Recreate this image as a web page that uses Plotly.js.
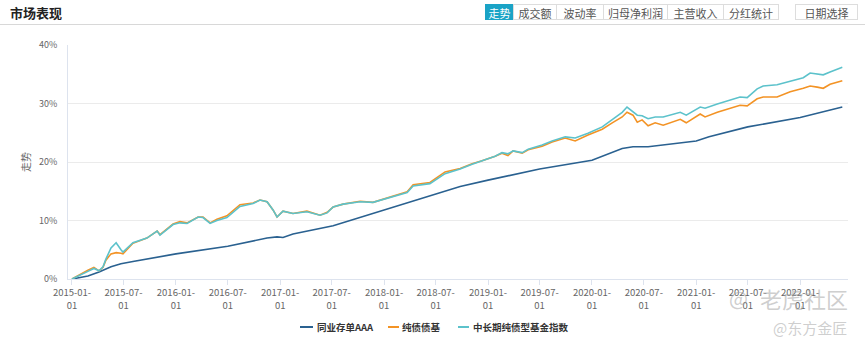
<!DOCTYPE html>
<html><head><meta charset="utf-8">
<script src="https://cdn.plot.ly/plotly-3.0.1.min.js"></script>
<style>
html,body{margin:0;padding:0;background:#fff;}
#wrap{position:relative;width:865px;height:346px;overflow:hidden;font-family:"Noto Sans CJK SC","Noto Sans",sans-serif;}
#chart{position:absolute;left:0;top:0;width:865px;height:346px;}
#hdr{position:absolute;left:10px;top:3px;font-size:13px;font-weight:bold;color:#222;}
#hline{position:absolute;left:0;top:24px;width:865px;height:1px;background:#d8d8d8;}
.btn{position:absolute;top:4px;height:16px;line-height:16px;font-size:11px;color:#555;border:1px solid #ddd;text-align:center;box-sizing:border-box;background:#fff;}
.btn.on{background:#1aa3c6;color:#fff;border-color:#1aa3c6;}
.wm{position:absolute;color:rgba(165,165,165,0.55);white-space:nowrap;}
.lgl{position:absolute;top:326px;height:2px;}
.lgt{position:absolute;top:320px;height:14px;line-height:14px;font-size:9.5px;font-weight:bold;color:#333;white-space:nowrap;}
</style></head>
<body><div id="wrap">
<div id="chart"></div>
<div id="hdr">市场表现</div>
<div id="hline"></div>
<div class="btn on" style="left:485px;width:29px;">走势</div>
<div class="btn" style="left:513px;width:44px;">成交额</div>
<div class="btn" style="left:556px;width:48px;">波动率</div>
<div class="btn" style="left:603px;width:65px;">归母净利润</div>
<div class="btn" style="left:667px;width:57px;">主营收入</div>
<div class="btn" style="left:723px;width:56px;">分红统计</div>
<div class="btn" style="left:795px;width:63px;">日期选择</div>
<div id="legend"></div>
<div class="wm" style="left:729px;top:287px;font-size:20px;line-height:22px;">@</div>
<div class="wm" style="left:760px;top:287px;font-size:22px;line-height:22px;">老虎社区</div>
<div class="wm" style="left:773px;top:320px;font-size:15px;line-height:15px;">@东方金匠</div>
</div>
<script>
// ---- data ----
var seriesNames = ["同业存单AAA", "纯债债基", "中长期纯债型基金指数"];

var cdDates = ["2015-01-01","2015-02-26","2015-04-06","2015-05-18","2015-06-22","2015-08-03","2016-01-01","2016-07-01","2016-11-16","2016-12-21","2017-01-11","2017-02-15","2017-07-06","2018-01-11","2018-07-01","2018-09-25","2019-01-01","2019-07-01","2020-01-01","2020-04-16","2020-05-24","2020-07-16","2021-01-01","2021-02-15","2021-07-01","2022-01-01","2022-05-29"];
var cdValues = [0,0.5,1.2,2.1,2.6,3.0,4.3,5.6,7.0,7.2,7.1,7.7,9.1,11.9,14.4,15.8,16.9,18.8,20.3,22.3,22.6,22.6,23.6,24.3,26.0,27.6,29.4];

var fundDates = ["2015-01-01","2015-01-25","2015-02-26","2015-03-19","2015-04-06","2015-04-20","2015-04-30","2015-05-18","2015-06-05","2015-06-22","2015-06-29","2015-08-03","2015-09-21","2015-10-27","2015-11-06","2015-12-22","2016-01-15","2016-02-09","2016-03-19","2016-04-05","2016-04-30","2016-05-24","2016-06-28","2016-08-13","2016-09-28","2016-10-22","2016-11-16","2016-12-07","2016-12-21","2017-01-11","2017-02-15","2017-04-05","2017-05-21","2017-06-15","2017-07-06","2017-08-10","2017-10-09","2017-11-23","2018-01-11","2018-03-23","2018-04-13","2018-06-11","2018-08-03","2018-09-25","2018-11-06","2018-12-11","2019-01-26","2019-02-19","2019-03-12","2019-03-30","2019-05-01","2019-05-22","2019-07-10","2019-08-14","2019-09-29","2019-11-03","2019-12-18","2020-02-06","2020-03-12","2020-04-16","2020-05-03","2020-05-24","2020-06-08","2020-06-25","2020-07-16","2020-08-10","2020-09-07","2020-11-06","2020-11-27","2021-01-15","2021-02-01","2021-03-16","2021-06-04","2021-06-29","2021-08-03","2021-08-24","2021-10-12","2021-11-27","2022-01-12","2022-02-05","2022-03-02","2022-03-23","2022-04-16","2022-05-29"];
var pureBondValues = [0,0.7,1.5,2.0,1.4,2.0,3.2,4.3,4.5,4.4,4.3,6.1,7.0,8.2,7.6,9.4,9.8,9.6,10.6,10.6,9.6,10.2,10.8,12.7,13.0,13.5,13.2,11.8,10.6,11.6,11.2,11.6,10.9,11.4,12.3,12.8,13.3,13.1,13.8,14.9,16.1,16.5,18.3,18.9,19.7,20.2,21.0,21.5,21.1,21.9,21.5,22.1,22.7,23.4,24.1,23.6,24.6,25.6,26.7,27.7,28.5,28.0,26.8,27.2,26.2,26.7,26.3,27.3,26.7,28.2,27.7,28.5,29.7,29.6,30.8,31.1,31.1,32.0,32.6,33.0,32.8,32.6,33.3,33.9];
var indexValues = [0,0.5,1.3,1.8,1.4,2.1,3.4,5.3,6.2,5.0,4.6,6.2,7.0,8.2,7.5,9.3,9.6,9.5,10.6,10.5,9.5,10.0,10.5,12.4,12.9,13.5,13.2,11.8,10.6,11.6,11.2,11.5,10.9,11.3,12.3,12.8,13.2,13.1,13.8,14.8,15.9,16.3,18.0,18.8,19.6,20.2,21.0,21.6,21.4,21.9,21.6,22.2,22.9,23.6,24.3,24.1,24.9,26.0,27.2,28.5,29.4,28.5,28.0,27.9,27.4,27.7,27.7,28.5,28.0,29.4,29.2,29.9,31.1,31.0,32.5,33.0,33.2,33.8,34.4,35.2,35.0,34.9,35.4,36.2];

var xTickVals = ["2015-01-01","2015-07-01","2016-01-01","2016-07-01","2017-01-01","2017-07-01","2018-01-01","2018-07-01","2019-01-01","2019-07-01","2020-01-01","2020-07-01","2021-01-01","2021-07-01","2022-01-01"];
var xTickText = ["2015-01-<br>01","2015-07-<br>01","2016-01-<br>01","2016-07-<br>01","2017-01-<br>01","2017-07-<br>01","2018-01-<br>01","2018-07-<br>01","2019-01-<br>01","2019-07-<br>01","2020-01-<br>01","2020-07-<br>01","2021-01-<br>01","2021-07-<br>01","2022-01-<br>01"];
var yTickVals = [0,10,20,30,40];
var yTickText = ["0%","10%","20%","30%","40%"];

var colors = ["#2a6190","#f39325","#5cc2cb"];

var traces = [
  {x: cdDates, y: cdValues, name: seriesNames[0], type: "scatter", mode: "lines", line: {color: colors[0], width: 1.6}},
  {x: fundDates, y: pureBondValues, name: seriesNames[1], type: "scatter", mode: "lines", line: {color: colors[1], width: 1.6}},
  {x: fundDates, y: indexValues, name: seriesNames[2], type: "scatter", mode: "lines", line: {color: colors[2], width: 1.6}}
];

var layout = {
  width: 865, height: 346,
  margin: {l: 68, r: 17, t: 45, b: 67, autoexpand: false},
  paper_bgcolor: "#fff", plot_bgcolor: "#fff",
  font: {family: '"Noto Sans CJK SC","Noto Sans",sans-serif', size: 9, color: "#666"},
  showlegend: false,
  xaxis: {type: "date", range: ["2014-12-18", "2022-06-18"], tickvals: xTickVals, ticktext: xTickText,
          showgrid: false, zeroline: false, showline: true, linecolor: "#dde3ee", linewidth: 1,
          ticks: "outside", ticklen: 5, tickcolor: "#dde3ee", tickfont: {size: 9.5, color: "#666"}, fixedrange: true},
  yaxis: {range: [0, 40], tickvals: yTickVals, ticktext: yTickText, showgrid: true, gridcolor: "#ebebeb",
          zeroline: false, showline: true, linecolor: "#dde3ee", ticks: "outside", ticklen: 8,
          tickcolor: "rgba(0,0,0,0)", tickfont: {size: 9, color: "#666"},
          title: {text: "走势", font: {size: 10, color: "#666"}, standoff: 6}, fixedrange: true},
  hovermode: false
};

Plotly.newPlot("chart", traces, layout, {displayModeBar: false, staticPlot: true});

// legend built from the series names and colours
var legendPos = [[300, 317], [388, 402], [458, 473]];
var lg = document.getElementById("legend");
seriesNames.forEach(function (n, i) {
  var l = document.createElement("div");
  l.className = "lgl";
  l.style.left = legendPos[i][0] + "px";
  l.style.width = (i === 0 ? 13 : 11) + "px";
  l.style.background = colors[i];
  lg.appendChild(l);
  var t = document.createElement("div");
  t.className = "lgt";
  t.style.left = legendPos[i][1] + "px";
  t.textContent = n;
  lg.appendChild(t);
});
</script>
</body></html>
